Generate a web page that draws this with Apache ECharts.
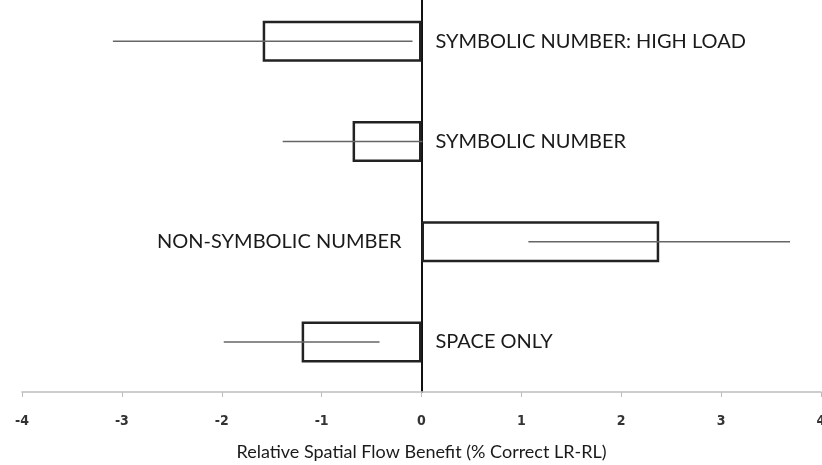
<!DOCTYPE html>
<html>
<head>
<meta charset="utf-8">
<script src="https://cdn.jsdelivr.net/npm/echarts@6/dist/echarts.min.js"></script>
<style>
  html, body { margin: 0; padding: 0; background: #fff; }
  #chart { width: 822px; height: 465px; }
</style>
</head>
<body>
<div id="chart"></div>
<script>
// conditions, top to bottom
const categories = ['SYMBOLIC NUMBER: HIGH LOAD', 'SYMBOLIC NUMBER', 'NON-SYMBOLIC NUMBER', 'SPACE ONLY']
// mean benefit and error half-width (% correct LR-RL)
const means = [-1.59, -0.69, 2.38, -1.2]
const errors = [1.5, 0.7, 1.31, 0.78]
const xTicks = [-4, -3, -2, -1, 0, 1, 2, 3, 4]

const chart = echarts.init(document.getElementById('chart'))

const labelFont = 'Lato, "Open Sans", sans-serif'

const barData = means.map((v, i) => ({
  value: v,
  label: {
    show: true,
    position: v < 0 ? 'right' : 'left',
    distance: v < 0 ? 14 : 20,
    formatter: categories[i],
    color: '#1a1a1a',
    fontSize: 20,
    fontFamily: labelFont
  }
}))

const errData = means.map((v, i) => [v - errors[i], v + errors[i], i])

chart.setOption({
  animation: false,
  grid: { left: 22, right: 1, top: -9, bottom: 73, containLabel: false, outerBoundsMode: 'none' },
  xAxis: {
    type: 'value',
    min: xTicks[0],
    max: xTicks[xTicks.length - 1],
    interval: 1,
    name: 'Relative Spatial Flow Benefit (% Correct LR-RL)',
    nameLocation: 'middle',
    nameGap: 51,
    nameTextStyle: { fontSize: 18, color: '#1a1a1a', fontFamily: labelFont },
    axisLine: { show: true, onZero: false, lineStyle: { color: '#bdbdbd', width: 1.5 } },
    axisTick: { show: true, length: 5, lineStyle: { color: '#bdbdbd' } },
    axisLabel: {
      margin: 22,
      fontSize: 14,
      fontWeight: 'bold',
      color: '#333',
      fontFamily: '"Liberation Sans Narrow", "DejaVu Sans Condensed", sans-serif'
    },
    splitLine: { show: false }
  },
  yAxis: {
    type: 'category',
    inverse: true,
    data: categories,
    axisLine: { onZero: true, lineStyle: { color: '#111', width: 2 } },
    axisTick: { show: false },
    axisLabel: { show: false },
    splitLine: { show: false }
  },
  series: [
    {
      type: 'bar',
      data: barData,
      barWidth: 41,
      itemStyle: { color: '#fff', borderColor: '#222', borderWidth: 2.5 }
    },
    {
      type: 'custom',
      data: errData,
      encode: { x: [0, 1], y: 2 },
      z: 3,
      renderItem: function (params, api) {
        const a = api.coord([api.value(0), api.value(2)])
        const b = api.coord([api.value(1), api.value(2)])
        return {
          type: 'line',
          shape: { x1: a[0], y1: a[1], x2: b[0], y2: b[1] },
          style: { stroke: '#666', lineWidth: 1.5 }
        }
      }
    }
  ]
})
</script>
</body>
</html>
